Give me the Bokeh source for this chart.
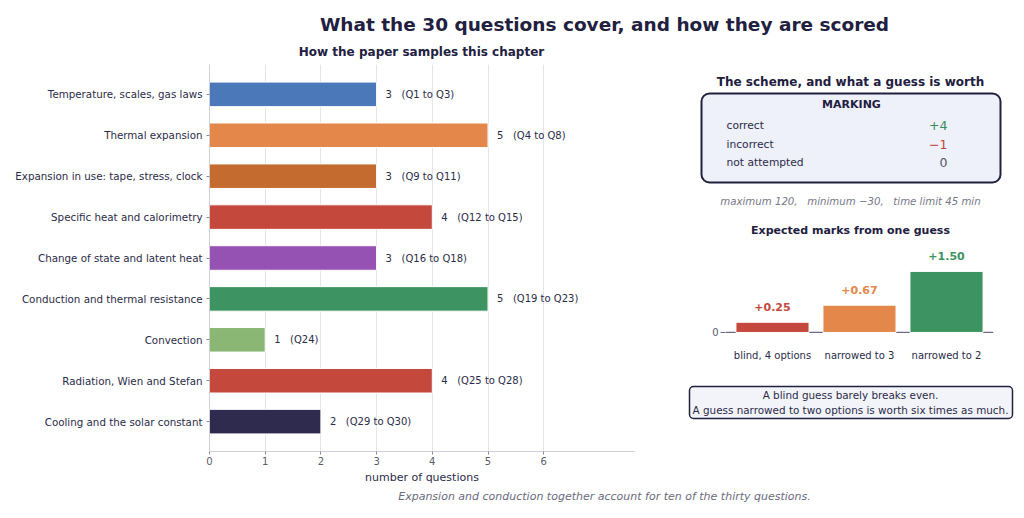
from bokeh.plotting import figure
from bokeh.layouts import row, column
from bokeh.models import (Range1d, FactorRange, FixedTicker, BoxAnnotation, Span,
                          ColumnDataSource)
from bokeh.core.properties import value
from bokeh.embed import file_html
from bokeh.resources import INLINE

FONT = value("DejaVu Sans")
DARK = "#22203f"
TXT = "#2b2b48"
GREY = "#5b5b6e"
SP = "\u00a0"

# ---------------- data ----------------
topics = ["Temperature, scales, gas laws", "Thermal expansion",
          "Expansion in use: tape, stress, clock", "Specific heat and calorimetry",
          "Change of state and latent heat", "Conduction and thermal resistance",
          "Convection", "Radiation, Wien and Stefan", "Cooling and the solar constant"]
counts = [3, 5, 3, 4, 3, 5, 1, 4, 2]
q_ranges = ["Q1 to Q3", "Q4 to Q8", "Q9 to Q11", "Q12 to Q15", "Q16 to Q18",
            "Q19 to Q23", "Q24", "Q25 to Q28", "Q29 to Q30"]
topic_colors = ["#4a78b8", "#e3874a", "#c46c30", "#c4483c", "#9552b2",
                "#3d9462", "#8ab774", "#c4483c", "#2e2b4e"]
x_ticks = [0, 1, 2, 3, 4, 5, 6]

mark_labels = ["correct", "incorrect", "not attempted"]
mark_values = ["+4", "\u22121", "0"]
mark_colors = ["#3a8a5a", "#c0443a", "#555566"]

guess_labels = ["blind, 4 options", "narrowed to 3", "narrowed to 2"]
guess_values = [0.25, 0.67, 1.50]
guess_colors = ["#c4483c", "#e3874a", "#3d9462"]


def blank(w, h):
    p = figure(width=w, height=h, x_range=Range1d(0, w), y_range=Range1d(h, 0),
               output_backend="svg", toolbar_location=None,
               min_border=0, min_border_left=0, min_border_right=0,
               min_border_top=0, min_border_bottom=0)
    p.axis.visible = False
    p.grid.visible = False
    p.outline_line_color = None
    return p


# ---------------- top titles ----------------
T = blank(1016, 60)
T.text(x=[604], y=[24], text=["What the 30 questions cover, and how they are scored"],
       text_font=FONT, text_font_style="bold", text_font_size="18.5px",
       text_align="center", text_baseline="middle", text_color=DARK)
T.text(x=[421], y=[51], text=["How the paper samples this chapter"],
       text_font=FONT, text_font_style="bold", text_font_size="12px",
       text_align="center", text_baseline="middle", text_color=DARK)

# ---------------- left bar chart ----------------
cats = topics[::-1]
A = figure(width=668, height=426, y_range=FactorRange(factors=cats, range_padding=0.23,
                                                     range_padding_units="absolute"),
           x_range=Range1d(0, 7.63), output_backend="svg", toolbar_location=None,
           min_border_left=209, min_border_right=34, min_border_top=4, min_border_bottom=34)
src = ColumnDataSource(dict(topic=topics, count=counts, color=topic_colors,
                            lab=[f"{c}{SP*3}({r})" for c, r in zip(counts, q_ranges)]))
A.hbar(y="topic", right="count", left=0, height=0.6, source=src, fill_color="color",
       line_color="white", line_width=1)
A.text(x="count", y="topic", text="lab", source=src, x_offset=9, text_font=FONT,
       text_font_size="10px", text_align="left", text_baseline="middle", text_color=TXT)
A.outline_line_color = None
A.ygrid.visible = False
A.xgrid.grid_line_color = "#e4e4ec"
A.xaxis.ticker = FixedTicker(ticks=x_ticks)
A.xaxis.axis_label = "number of questions"
A.xaxis.axis_label_text_font = "DejaVu Sans"
A.xaxis.axis_label_text_font_style = "normal"
A.xaxis.axis_label_text_font_size = "11px"
A.xaxis.axis_label_text_color = TXT
A.xaxis.axis_label_standoff = 3
A.axis.major_label_text_font = "DejaVu Sans"
A.xaxis.major_label_text_font_size = "10px"
A.xaxis.major_label_text_color = GREY
A.yaxis.major_label_text_font_size = "10.3px"
A.yaxis.major_label_text_color = TXT
A.axis.axis_line_color = "#cfcfd8"
A.axis.major_tick_line_color = "#8a8a9a"
A.axis.major_tick_out = 3
A.axis.major_tick_in = 0
A.axis.minor_tick_line_color = None
A.xaxis.major_label_standoff = 2
A.yaxis.major_label_standoff = 4

# ---------------- right: marking scheme ----------------
R1 = blank(348, 180)
R1.add_layout(BoxAnnotation(left=33, right=332, top=33, bottom=122, border_radius=8,
                            fill_color="#eef0fa", fill_alpha=1, line_color=DARK,
                            line_width=2, line_alpha=1, level="underlay"))
R1.text(x=[182], y=[21], text=["The scheme, and what a guess is worth"], text_font=FONT,
        text_font_style="bold", text_font_size="12px", text_align="center",
        text_baseline="middle", text_color=DARK)
R1.text(x=[183], y=[44], text=["MARKING"], text_font=FONT, text_font_style="bold",
        text_font_size="11px", text_align="center", text_baseline="middle", text_color=DARK)
row_y = [65 + 18.5 * i for i in range(len(mark_labels))]
R1.text(x=[58] * len(mark_labels), y=row_y, text=mark_labels, text_font=FONT,
        text_font_size="10.7px", text_align="left", text_baseline="middle", text_color=TXT)
R1.text(x=[279] * len(mark_values), y=row_y, text=mark_values, text_font=FONT,
        text_font_size="12.5px", text_align="right", text_baseline="middle",
        text_color=mark_colors)
R1.text(x=[182], y=[141], text=[f"maximum 120,{SP*3}minimum \u221230,{SP*3}time limit 45 min"],
        text_font=FONT, text_font_style="italic", text_font_size="10.2px",
        text_align="center", text_baseline="middle", text_color="#777788")
R1.text(x=[182], y=[170], text=["Expected marks from one guess"], text_font=FONT,
        text_font_style="bold", text_font_size="11px", text_align="center",
        text_baseline="middle", text_color=DARK)

# ---------------- right: expected marks bars ----------------
R2 = figure(width=348, height=130,
            x_range=FactorRange(factors=guess_labels, range_padding=0.04,
                                range_padding_units="absolute"),
            y_range=Range1d(-0.05, 2.21), output_backend="svg", toolbar_location=None,
            min_border_left=57, min_border_right=23, min_border_top=2, min_border_bottom=36)
gsrc = ColumnDataSource(dict(g=guess_labels, v=guess_values, color=guess_colors,
                             lab=[f"+{v:.2f}" for v in guess_values]))
R2.add_layout(Span(location=0, dimension="width", line_color="#6e6a8a", line_width=1.2,
                   level="underlay"))
R2.vbar(x="g", top="v", bottom=0, width=0.84, source=gsrc, fill_color="color",
        line_color="white", line_width=1)
R2.text(x="g", y="v", text="lab", source=gsrc, y_offset=-15, text_font=FONT,
        text_font_style="bold", text_font_size="11px", text_align="center",
        text_baseline="middle", text_color="color")
R2.outline_line_color = None
R2.grid.visible = False
R2.yaxis.ticker = FixedTicker(ticks=[0])
R2.yaxis.axis_line_color = None
R2.yaxis.major_tick_out = 5
R2.yaxis.major_tick_in = 0
R2.yaxis.major_tick_line_color = "#6e6a8a"
R2.yaxis.minor_tick_line_color = None
R2.yaxis.major_label_standoff = 2
R2.yaxis.major_label_text_font = "DejaVu Sans"
R2.yaxis.major_label_text_font_size = "10px"
R2.yaxis.major_label_text_color = GREY
R2.xaxis.axis_line_color = None
R2.xaxis.major_tick_line_color = None
R2.xaxis.major_label_standoff = 9
R2.xaxis.major_label_text_font = "DejaVu Sans"
R2.xaxis.major_label_text_font_size = "10px"
R2.xaxis.major_label_text_color = TXT

# ---------------- right: note box ----------------
R3 = blank(348, 116)
R3.add_layout(BoxAnnotation(left=21, right=344, top=16, bottom=48, border_radius=4,
                            fill_color="#f3f4fa", fill_alpha=1, line_color=DARK,
                            line_width=1.5, line_alpha=1, level="underlay"))
R3.text(x=[182, 182], y=[24, 39],
        text=["A blind guess barely breaks even.",
              "A guess narrowed to two options is worth six times as much."],
        text_font=FONT, text_font_size="10.4px", text_align="center",
        text_baseline="middle", text_color=TXT)

# ---------------- footnote ----------------
F = blank(1016, 28)
F.text(x=[604], y=[10], text=["Expansion and conduction together account for ten of the thirty questions."],
       text_font=FONT, text_font_style="italic", text_font_size="11px",
       text_align="center", text_baseline="middle", text_color="#6b6b80")

right = column(row(R1, spacing=0), R2, row(R3, spacing=0), spacing=0)
layout = column(T, row(A, right, spacing=0), F, spacing=0)

open("out.html", "w").write(file_html(layout, INLINE))
